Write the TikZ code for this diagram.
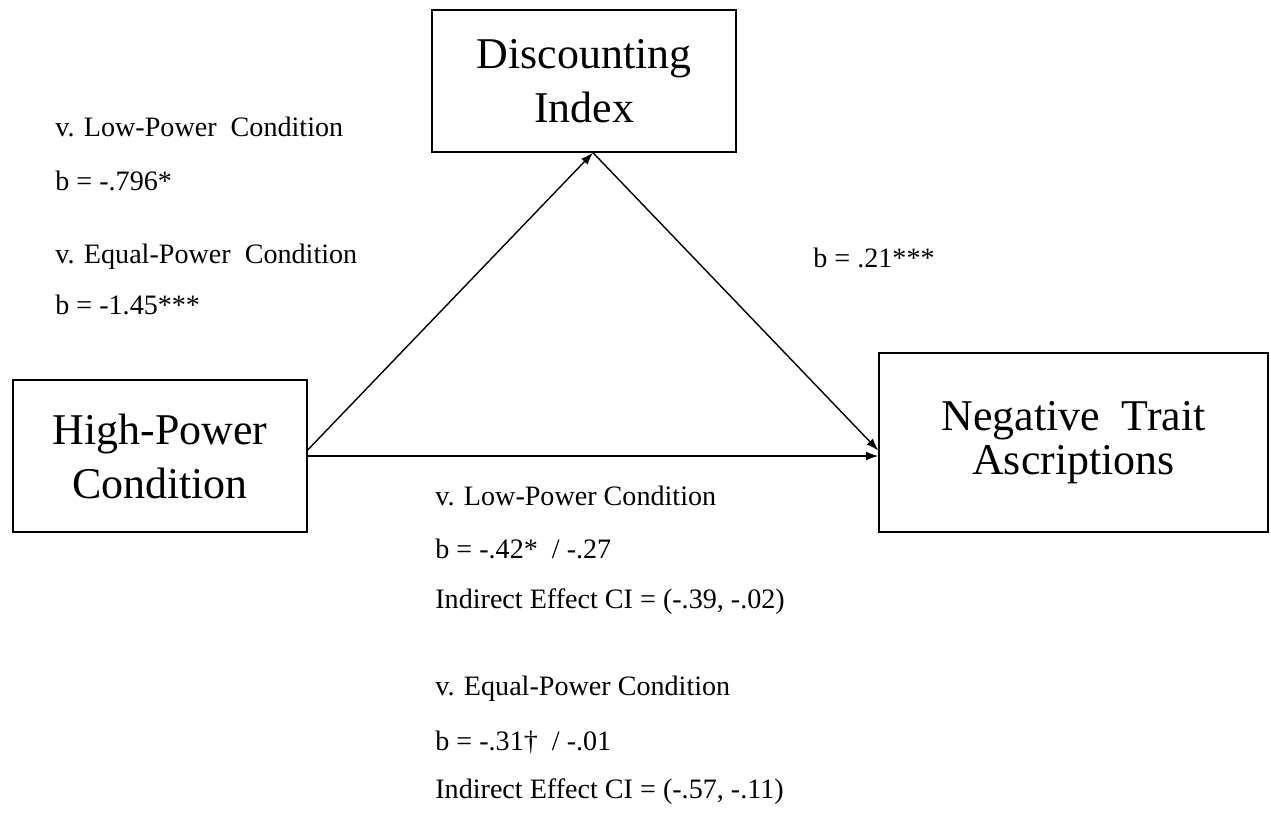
\documentclass[tikz,border=0pt]{standalone}
\usepackage{fontspec}
\setmainfont{Liberation Serif}
\usetikzlibrary{arrows.meta,calc}

\begin{document}
\begin{tikzpicture}[
  x=0.02cm, y=-0.02cm,
  box/.style={draw, line width=0.8pt, align=center, inner sep=0pt, font=\fontsize{25}{30.7}\selectfont},
  lbl/.style={anchor=base west, inner sep=0pt, font=\fontsize{16}{19}\selectfont},
  path/.style={line width=0.8pt, -{Latex[length=7pt,width=5pt]}}
]
\useasboundingbox (0,0) rectangle (1271,812);
% boxes
\node[box, minimum width=5.88cm, minimum height=3.04cm] (hp) at (160,456) {High-Power\\Condition};
\node[box, minimum width=6.08cm, minimum height=2.84cm] (di) at (584,81) {Discounting\\Index};
\node[box, minimum width=7.78cm, minimum height=3.58cm, font=\fontsize{25}{25}\selectfont] (nt) at (1073.5,442.5) {Negative\enspace Trait\\Ascriptions};
% paths
\draw[path] ($(hp.east)+(0,-6)$) -- ($(di.south)+(9,0)$);
\draw[path] ($(di.south)+(9,0)$) -- ($(nt.west)+(0,8)$);
\draw[path] (hp.east) -- (nt.west |- hp.east);
% a path
\node[lbl] (a1) at (55,136) {v. Low-Power\enspace Condition};
\node[lbl] (a2) at (55,190) {b = -.796*};
\node[lbl] (a3) at (55,263) {v. Equal-Power\enspace Condition};
\node[lbl] (a4) at (55,314) {b = -1.45***};
% b path
\node[lbl] (b1) at (813,267) {b = .21***};
% c path
\node[lbl] (c1) at (435,505) {v. Low-Power Condition};
\node[lbl] (c2) at (435,558) {b = -.42*\enspace / -.27};
\node[lbl] (c3) at (435,608) {Indirect Effect CI = (-.39, -.02)};
\node[lbl] (c4) at (435,695) {v. Equal-Power Condition};
\node[lbl] (c5) at (435,750) {b = -.31†\enspace / -.01};
\node[lbl] (c6) at (435,798) {Indirect Effect CI = (-.57, -.11)};
\end{tikzpicture}
\end{document}
